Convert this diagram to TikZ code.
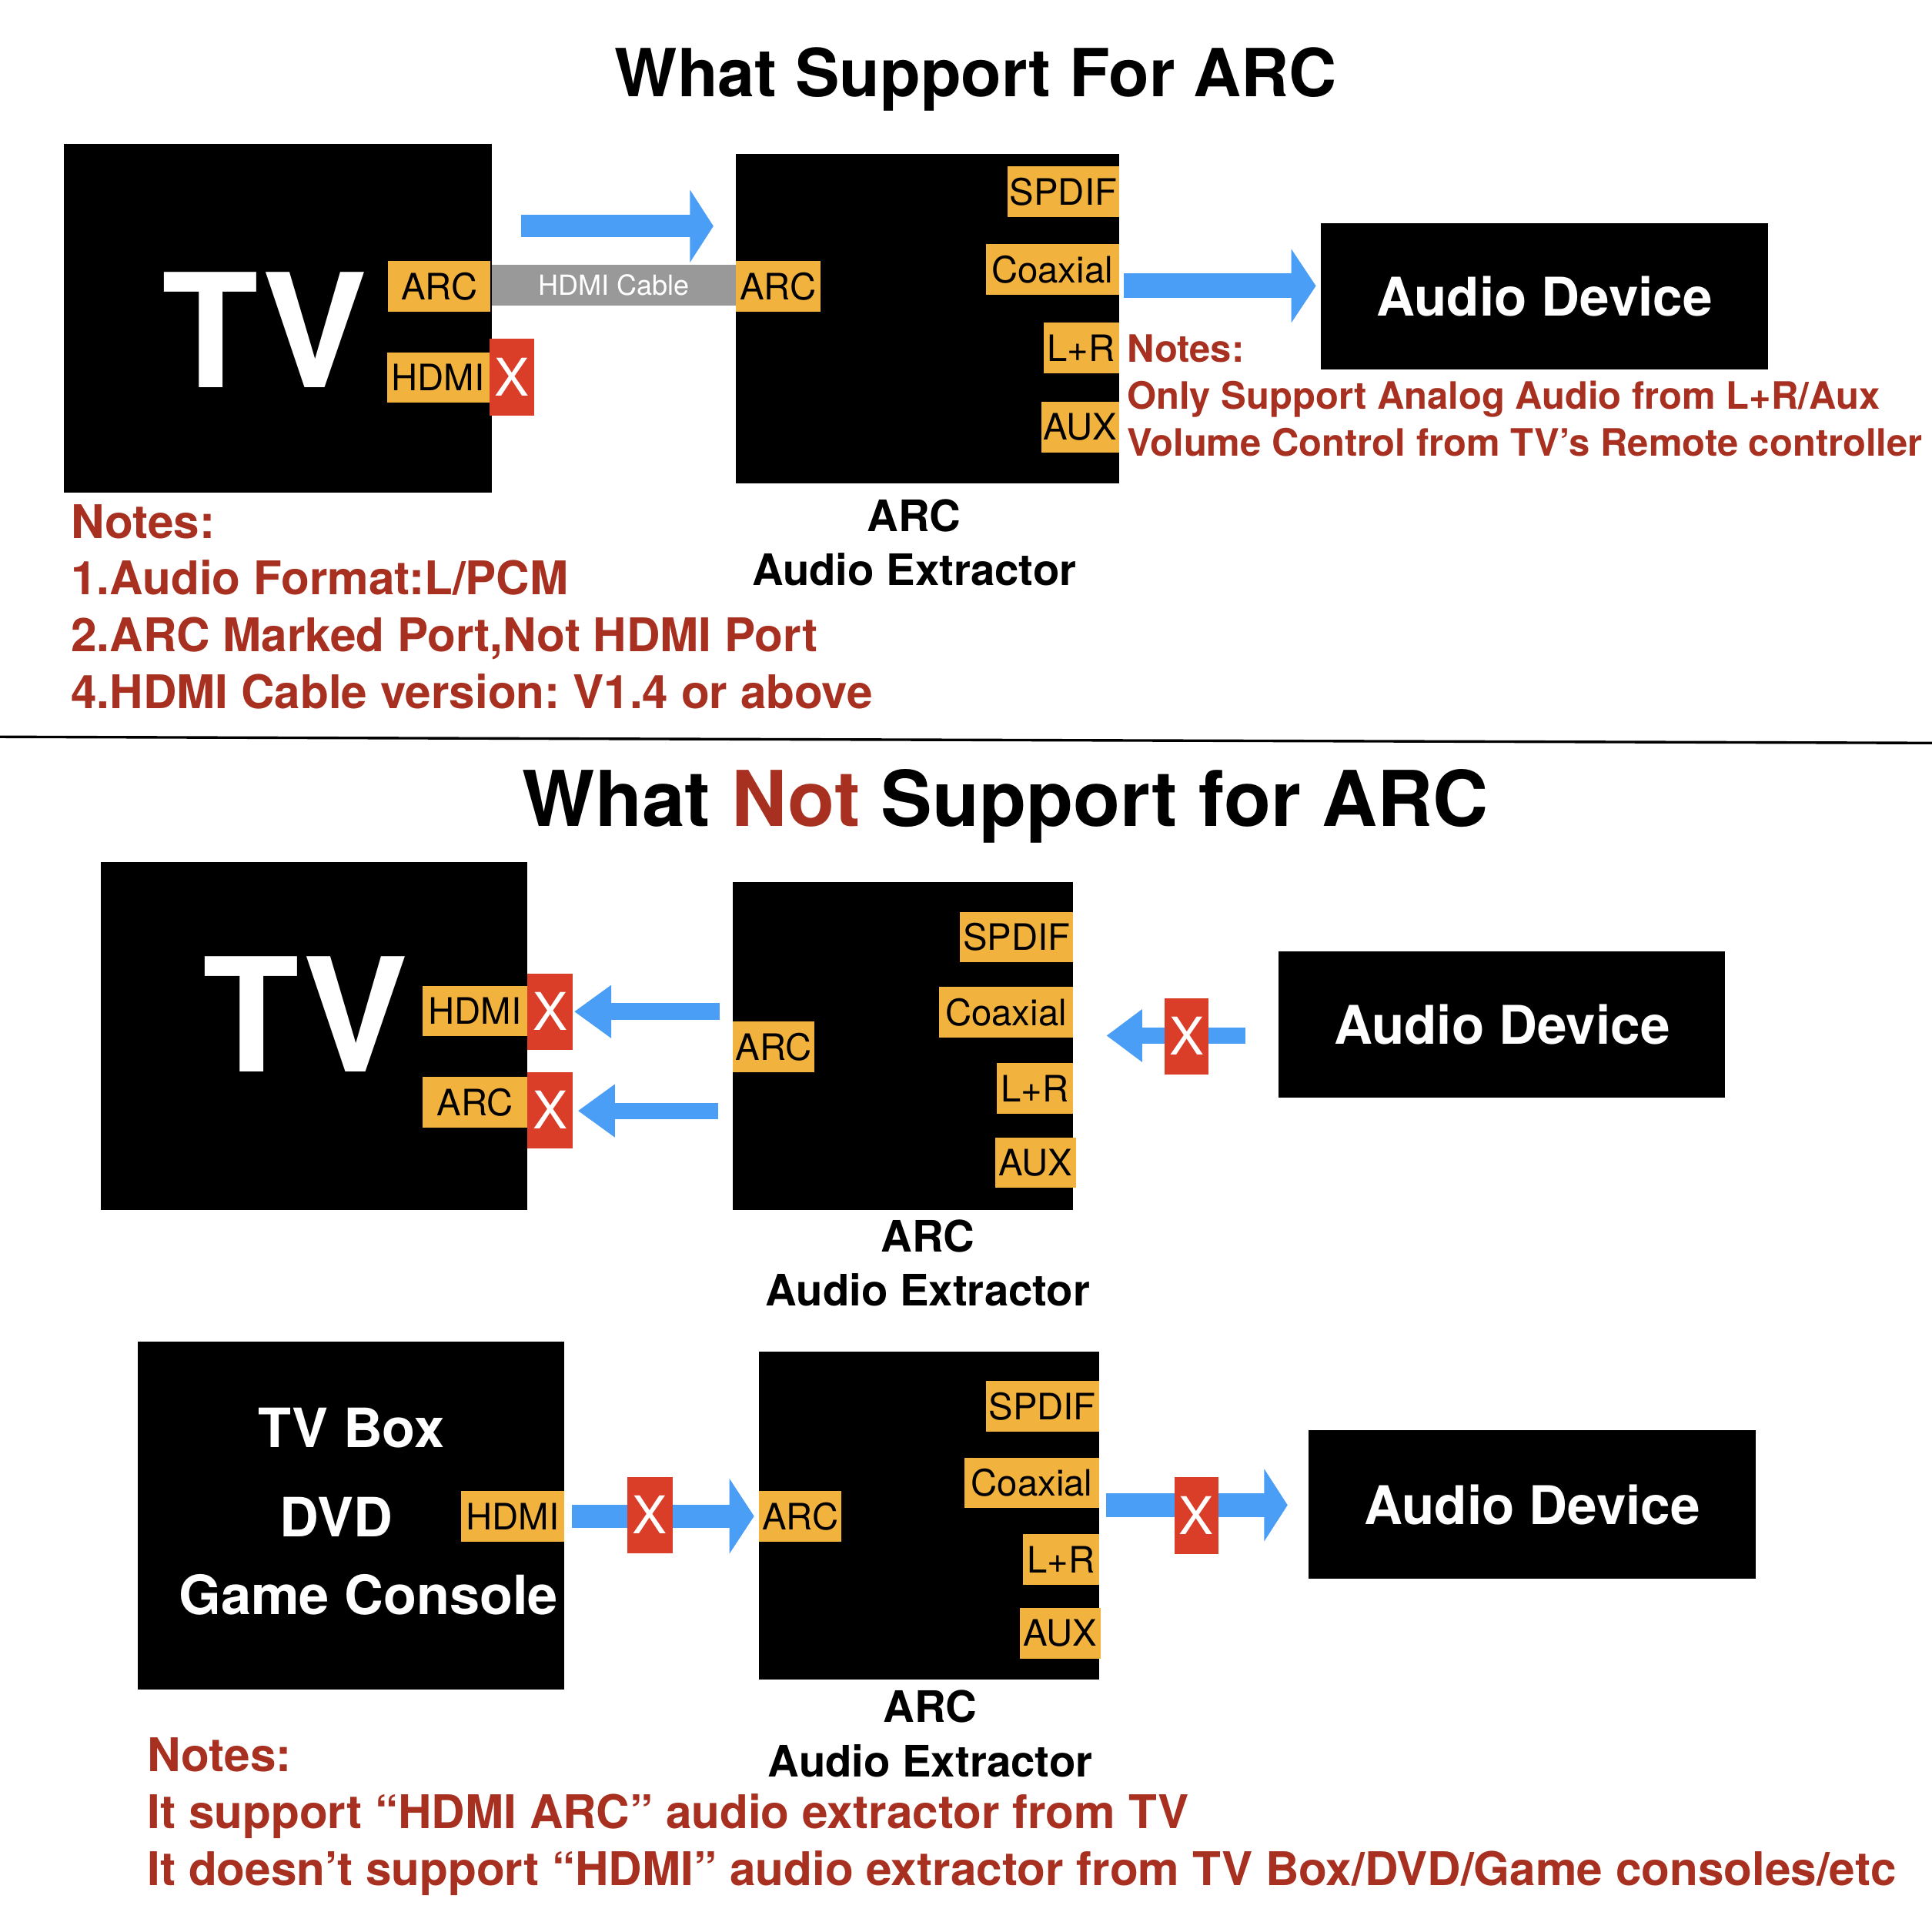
\documentclass[tikz,border=0pt]{standalone}
\usepackage{fontspec}
\setmainfont{TeX Gyre Heros}
\usetikzlibrary{arrows.meta}
\frenchspacing

\definecolor{portorange}{RGB}{242,178,62}
\definecolor{flowblue}{RGB}{74,158,245}
\definecolor{crossred}{RGB}{218,62,40}
\definecolor{notered}{RGB}{168,48,32}
\definecolor{cablegray}{RGB}{153,153,153}

\begin{document}
\begin{tikzpicture}[
    x=0.01cm, y=-0.01cm,
    every node/.style={inner sep=0pt},
    device/.style={fill=black, text=white, font=\bfseries\fontsize{12.3}{15}\selectfont},
    port/.style={fill=portorange, minimum height=0.41cm, font=\fontsize{8.4}{10}\selectfont},
    cross/.style={fill=crossred, text=white, minimum width=0.36cm, minimum height=0.62cm, font=\fontsize{12}{14}\selectfont},
    flow/.style={draw=flowblue},
    heading/.style={font=\bfseries\fontsize{15.3}{18}\selectfont},
    biglabel/.style={text=white, font=\bfseries\fontsize{36.5}{40}\selectfont},
    srclabel/.style={text=white, font=\bfseries\fontsize{12.5}{15}\selectfont},
    caption/.style={anchor=base, align=center, font=\bfseries\fontsize{10}{12.5}\selectfont},
    notes/.style={anchor=base west, align=left, text=notered, font=\bfseries\fontsize{10.7}{13.1}\selectfont}
]
\fill[white] (0,0) rectangle (1568,1568);
\useasboundingbox (0,0) rectangle (1568,1568);

% ---- part 1: what is supported
\node[heading] (title1) at (792,64) {What Support For ARC};

\node[device, minimum width=3.47cm, minimum height=2.83cm] (tv1) at (225.5,258.5) {};
\node[biglabel] (tv1label) at (215,268) {TV};
\node[port, minimum width=0.83cm] (tv1arc) at (356.5,232.5) {ARC};
\node[port, minimum width=0.83cm] (tv1hdmi) at (355.5,306.5) {HDMI};
\node[fill=cablegray, text=white, minimum width=1.98cm, minimum height=0.33cm,
      font=\fontsize{6.4}{8}\selectfont] (cable) at (498,231.5) {HDMI Cable};

\node[device, minimum width=3.11cm, minimum height=2.67cm] (ext1) at (752.5,258.5) {};
\node[port, minimum width=0.69cm] (ext1arc) at (631.5,232.5) {ARC};
\node[port, minimum width=0.90cm] (spdif1) at (863,155.5) {SPDIF};
\node[port, minimum width=1.08cm] (coax1) at (854,218.5) {Coaxial};
\node[port, minimum width=0.61cm] (lr1) at (877.5,282.5) {L+R};
\node[port, minimum width=0.63cm] (aux1) at (876.5,346.5) {AUX};
\node[caption] (ext1cap) at (742,475) {ARC\\Audio Extractor};

\node[device, minimum width=3.63cm, minimum height=1.19cm] (aud1) at (1253.5,240.5) {Audio Device};

\coordinate (a1s) at (423,183.5);
\coordinate (a1e) at (579,183.5);
\draw[flow, line width=0.18cm, -{Triangle[width=0.58cm,length=0.19cm]}] (a1s) -- (a1e);
\coordinate (a2s) at (912,232);
\coordinate (a2e) at (1068,232);
\draw[flow, line width=0.20cm, -{Triangle[width=0.59cm,length=0.20cm]}] (a2s) -- (a2e);

\node[cross] (x1) at (415.5,306) {X};

\node[notes, font=\bfseries\fontsize{8.7}{10.8}\selectfont] (notes1r) at (914,370)
    {Notes:\\Only Support Analog Audio from L+R/Aux\\Volume Control from TV’s Remote controller};
\node[notes] (notes1) at (57,575)
    {Notes:\\1.Audio Format:L/PCM\\2.ARC Marked Port,Not HDMI Port\\4.HDMI Cable version: V1.4 or above};

\coordinate (sepL) at (0,598);
\coordinate (sepR) at (1568,603);
\draw[line width=0.6pt] (sepL) -- (sepR);

% ---- part 2: what is not supported
\node[heading, font=\bfseries\fontsize{17.75}{21}\selectfont] (title2) at (816,654)
    {What \textcolor{notered}{Not} Support for ARC};

\node[device, minimum width=3.46cm, minimum height=2.82cm] (tv2) at (255,841) {};
\node[biglabel] (tv2label) at (248,823) {TV};
\node[port, minimum width=0.85cm] (tv2hdmi) at (385.5,820.5) {HDMI};
\node[port, minimum width=0.85cm] (tv2arc) at (385.5,894.5) {ARC};

\node[device, minimum width=2.76cm, minimum height=2.66cm] (ext2) at (733,849) {};
\node[port, minimum width=0.66cm] (ext2arc) at (628,849.5) {ARC};
\node[port, minimum width=0.92cm] (spdif2) at (825,760.5) {SPDIF};
\node[port, minimum width=1.09cm] (coax2) at (816.5,821.5) {Coaxial};
\node[port, minimum width=0.62cm] (lr2) at (840,883.5) {L+R};
\node[port, minimum width=0.65cm] (aux2) at (840.5,943.5) {AUX};
\node[caption] (ext2cap) at (753,1060) {ARC\\Audio Extractor};

\node[device, minimum width=3.62cm, minimum height=1.19cm] (aud2) at (1219,831.5) {Audio Device};

\coordinate (a3s) at (584,821);
\coordinate (a3e) at (466,821);
\draw[flow, line width=0.14cm, -{Triangle[width=0.41cm,length=0.30cm]}] (a3s) -- (a3e);
\coordinate (a4s) at (583,901.5);
\coordinate (a4e) at (469,901.5);
\draw[flow, line width=0.13cm, -{Triangle[width=0.41cm,length=0.30cm]}] (a4s) -- (a4e);
\coordinate (a5s) at (1011,840.5);
\coordinate (a5e) at (898,840.5);
\draw[flow, line width=0.13cm, -{Triangle[width=0.41cm,length=0.29cm]}] (a5s) -- (a5e);

\node[cross, minimum width=0.37cm] (x2a) at (446.5,821) {X};
\node[cross, minimum width=0.37cm] (x2b) at (446.5,901) {X};
\node[cross] (x2c) at (963,841) {X};

% ---- part 3: other sources
\node[device, minimum width=3.46cm, minimum height=2.82cm] (src3) at (285,1230) {};
\node[srclabel] (src3a) at (285,1159) {TV Box};
\node[srclabel] (src3b) at (273,1231) {DVD};
\node[srclabel] (src3c) at (299,1294) {Game Console};
\node[port, minimum width=0.84cm] (src3hdmi) at (416,1230.5) {HDMI};

\node[device, minimum width=2.76cm, minimum height=2.66cm] (ext3) at (754,1230) {};
\node[port, minimum width=0.67cm] (ext3arc) at (649.5,1230.5) {ARC};
\node[port, minimum width=0.92cm] (spdif3) at (846,1141.5) {SPDIF};
\node[port, minimum width=1.09cm] (coax3) at (837.5,1203.5) {Coaxial};
\node[port, minimum width=0.62cm] (lr3) at (861,1265.5) {L+R};
\node[port, minimum width=0.65cm] (aux3) at (860.5,1325.5) {AUX};
\node[caption] (ext3cap) at (755,1442) {ARC\\Audio Extractor};

\node[device, minimum width=3.63cm, minimum height=1.20cm] (aud3) at (1243.5,1221) {Audio Device};

\coordinate (a6s) at (464,1230.5);
\coordinate (a6e) at (612,1230.5);
\draw[flow, line width=0.19cm, -{Triangle[width=0.60cm,length=0.20cm]}] (a6s) -- (a6e);
\coordinate (a7s) at (898,1221.5);
\coordinate (a7e) at (1045,1221.5);
\draw[flow, line width=0.19cm, -{Triangle[width=0.58cm,length=0.19cm]}] (a7s) -- (a7e);

\node[cross, minimum width=0.37cm] (x3a) at (527.5,1229.5) {X};
\node[cross] (x3b) at (971,1230) {X};

\node[notes] (notes3) at (119,1530)
    {Notes:\\It support “HDMI ARC” audio extractor from TV\\It doesn’t support “HDMI” audio extractor from TV Box/DVD/Game consoles/etc};
\end{tikzpicture}
\end{document}
